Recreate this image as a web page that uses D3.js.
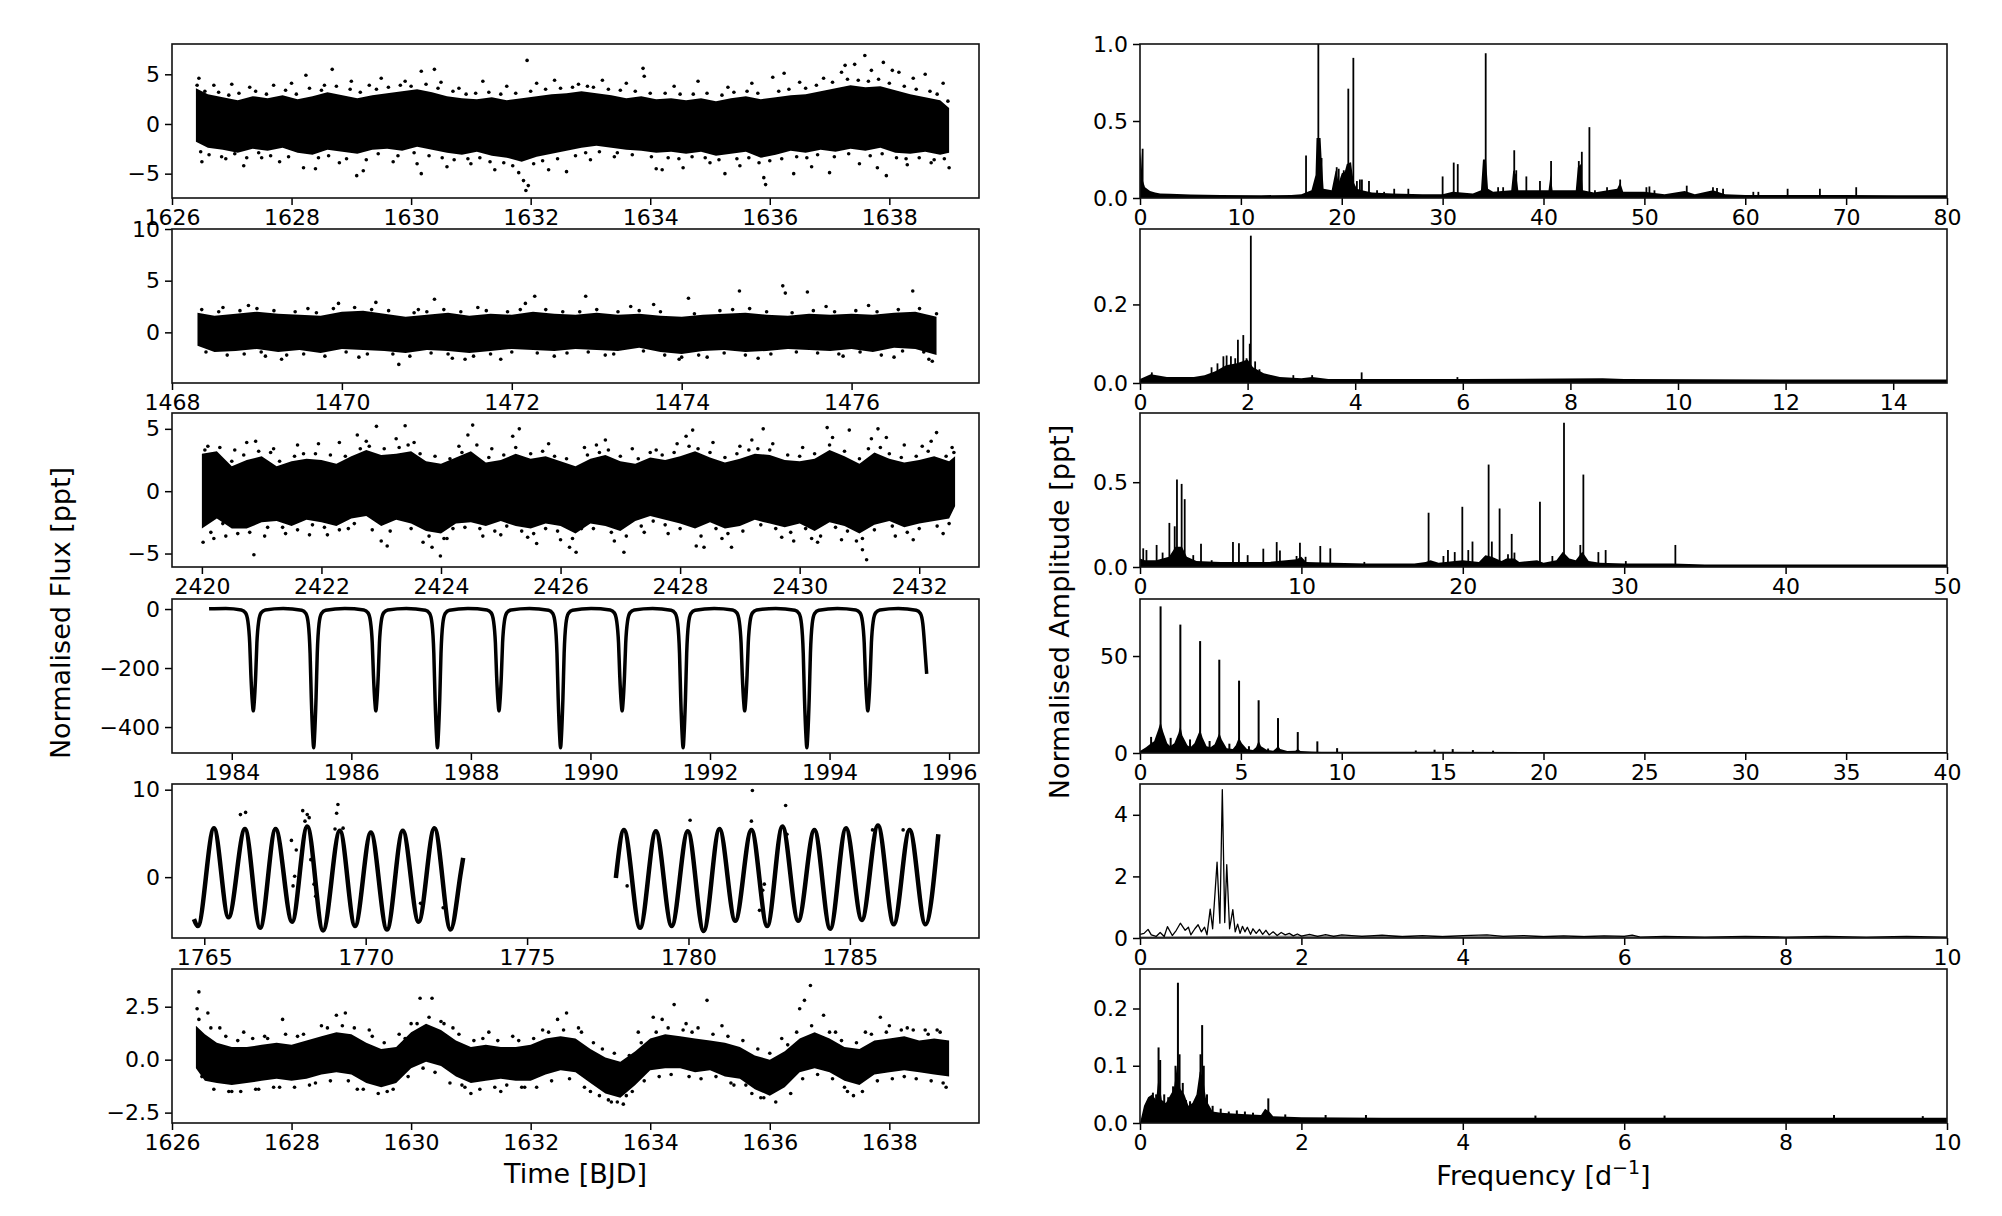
<!DOCTYPE html>
<html><head><meta charset="utf-8">
<script src="https://cdn.jsdelivr.net/npm/d3@7"></script>
<style>body{margin:0;background:#fff}svg{display:block}text{font-family:"DejaVu Sans",sans-serif}</style>
</head><body><svg id="c" width="2002" height="1216"></svg>
<script>
// ---------------- LEFT: light curves ----------------
// panel 1: band of dense points [t, low, high] + outlying points [t, flux]
const lc1Band=[[1626.4,-1.8,3.6],[1626.6,-2.4,3.0],[1626.85,-2.6,2.7],[1627.1,-2.9,2.4],[1627.35,-2.5,2.8],[1627.6,-2.7,2.6],[1627.85,-2.4,2.9],[1628.1,-2.9,2.5],[1628.35,-3.1,2.8],[1628.6,-2.6,3.2],[1628.85,-2.8,2.9],[1629.1,-3.0,2.6],[1629.35,-2.6,2.9],[1629.6,-2.5,3.1],[1629.85,-2.7,3.3],[1630.1,-2.3,3.5],[1630.35,-2.6,3.2],[1630.6,-2.9,2.8],[1630.85,-3.1,2.6],[1631.1,-2.8,2.5],[1631.35,-3.2,2.7],[1631.6,-3.4,2.4],[1631.85,-3.8,2.6],[1632.1,-3.3,2.8],[1632.35,-3.0,3.0],[1632.6,-2.7,3.1],[1632.85,-2.4,3.3],[1633.1,-2.2,3.1],[1633.35,-2.4,2.9],[1633.6,-2.6,2.6],[1633.85,-2.7,2.8],[1634.1,-2.9,2.5],[1634.35,-2.8,2.6],[1634.6,-3.0,2.4],[1634.85,-2.8,2.6],[1635.1,-3.2,2.3],[1635.35,-3.0,2.6],[1635.6,-2.8,2.8],[1635.85,-3.4,2.5],[1636.1,-3.1,2.7],[1636.35,-2.7,2.9],[1636.6,-2.9,3.0],[1636.85,-2.6,3.3],[1637.1,-2.8,3.6],[1637.35,-2.5,3.9],[1637.6,-2.7,3.7],[1637.85,-2.4,3.8],[1638.1,-2.9,3.4],[1638.35,-3.0,3.0],[1638.6,-2.8,2.7],[1638.85,-3.1,2.4],[1639.0,-2.9,1.6]];
const lc1Dots=[[1626.45,4.6],[1626.5,-3.8],[1626.7,3.9],[1626.9,-3.5],[1627.0,4.0],[1627.2,-4.2],[1627.3,3.7],[1627.5,-3.4],[1627.7,3.9],[1627.8,-3.8],[1628.0,4.1],[1628.2,-4.4],[1628.24,4.9],[1628.4,-4.5],[1628.55,3.9],[1628.68,5.5],[1628.8,-3.9],[1629.0,4.3],[1629.09,-5.2],[1629.2,-4.7],[1629.3,3.9],[1629.5,4.6],[1629.7,-3.8],[1629.9,4.3],[1630.1,-4.0],[1630.17,5.3],[1630.17,-5.0],[1630.39,5.5],[1630.5,4.2],[1630.6,-4.3],[1630.8,3.6],[1631.0,-4.0],[1631.2,4.3],[1631.4,-4.6],[1631.6,3.8],[1631.8,-4.9],[1631.88,-5.7],[1631.92,-6.7],[1631.94,6.4],[1631.96,-6.2],[1632.1,4.1],[1632.3,-4.6],[1632.4,4.4],[1632.6,-4.8],[1632.8,4.0],[1633.0,-3.6],[1633.2,4.4],[1633.4,-3.3],[1633.6,4.1],[1633.88,5.6],[1633.9,4.8],[1634.1,-4.5],[1634.2,-4.6],[1634.4,3.8],[1634.55,-4.4],[1634.8,4.3],[1635.0,-3.9],[1635.25,-5.0],[1635.3,3.7],[1635.5,-4.2],[1635.7,4.1],[1635.9,-5.4],[1635.93,-6.1],[1636.05,4.7],[1636.24,5.1],[1636.4,-5.0],[1636.5,4.2],[1636.7,-4.3],[1636.9,4.6],[1637.0,-4.9],[1637.2,5.2],[1637.26,5.9],[1637.42,6.0],[1637.5,-4.0],[1637.59,6.9],[1637.7,5.4],[1637.8,-4.4],[1637.9,6.2],[1637.95,-5.2],[1638.05,5.4],[1638.16,5.2],[1638.3,-4.1],[1638.4,4.6],[1638.6,5.0],[1638.7,-3.9],[1638.9,4.1],[1639.0,-4.4]];
const lc1Fringe=[[1626.42,3.9],[1626.48,-2.8],[1626.55,3.3],[1626.62,-3.1],[1626.78,3.2],[1626.83,-3.3],[1626.95,2.9],[1627.05,-3.0],[1627.12,3.1],[1627.25,-3.4],[1627.4,3.3],[1627.45,-2.9],[1627.58,3.0],[1627.65,-3.2],[1627.9,3.4],[1627.95,-3.3],[1628.08,3.0],[1628.3,3.6],[1628.45,-3.4],[1628.5,3.4],[1628.62,-3.2],[1628.75,3.8],[1628.92,-3.5],[1628.98,3.5],[1629.15,3.2],[1629.25,-3.6],[1629.42,3.5],[1629.45,-3.0],[1629.62,3.7],[1629.78,-3.2],[1629.82,3.9],[1630.0,3.8],[1630.05,-2.9],[1630.25,4.0],[1630.3,-3.2],[1630.45,3.6],[1630.52,-3.4],[1630.7,3.3],[1630.72,-3.6],[1630.92,3.0],[1630.95,-3.5],[1631.08,3.1],[1631.15,-3.4],[1631.3,3.2],[1631.32,-3.8],[1631.5,3.0],[1631.55,-3.9],[1631.7,-4.2],[1631.75,3.1],[1632.0,3.3],[1632.05,-4.0],[1632.2,-3.7],[1632.25,3.5],[1632.45,-3.5],[1632.5,3.6],[1632.7,3.7],[1632.75,-3.2],[1632.95,3.8],[1632.92,-2.9],[1633.05,3.7],[1633.15,-2.8],[1633.3,3.5],[1633.45,-2.9],[1633.5,3.4],[1633.7,-3.1],[1633.75,3.3],[1634.0,3.1],[1634.02,-3.3],[1634.25,3.1],[1634.3,-3.4],[1634.5,3.0],[1634.48,-3.5],[1634.7,-3.3],[1634.72,3.0],[1634.95,3.1],[1634.92,-3.4],[1635.15,-3.6],[1635.2,2.9],[1635.4,3.2],[1635.45,-3.5],[1635.62,3.3],[1635.65,-3.4],[1635.8,3.1],[1635.82,-3.9],[1636.0,-3.7],[1636.15,3.3],[1636.2,-3.5],[1636.32,3.5],[1636.45,-3.3],[1636.6,3.6],[1636.62,-3.4],[1636.78,3.9],[1636.8,-3.1],[1637.05,4.2],[1637.08,-3.3],[1637.3,4.5],[1637.32,-3.0],[1637.48,4.4],[1637.65,4.3],[1637.68,-3.2],[1637.82,4.5],[1637.88,-3.0],[1638.0,4.1],[1638.12,-3.4],[1638.25,3.8],[1638.28,-3.5],[1638.45,3.5],[1638.5,-3.4],[1638.68,3.3],[1638.75,-3.6],[1638.8,3.0],[1638.92,-3.5],[1638.98,2.3]];
const lc1XTicks=[1626,1628,1630,1632,1634,1636,1638];
const lc1YTicks=[-5,0,5];

// panel 2
const lc2Band=[[1468.3,-1.3,1.9],[1468.5,-1.9,1.6],[1468.75,-1.8,1.8],[1469.0,-1.6,2.0],[1469.25,-1.9,1.8],[1469.5,-1.7,1.7],[1469.75,-2.0,1.6],[1470.0,-1.6,2.0],[1470.25,-1.7,2.1],[1470.5,-1.8,1.8],[1470.75,-2.0,1.5],[1471.0,-1.7,1.7],[1471.25,-1.8,1.9],[1471.5,-2.0,1.6],[1471.75,-1.8,1.8],[1472.0,-1.6,1.7],[1472.25,-1.7,2.0],[1472.5,-1.8,1.8],[1472.75,-1.6,1.7],[1473.0,-1.7,1.9],[1473.25,-1.8,1.7],[1473.5,-1.5,1.8],[1473.75,-1.9,1.6],[1474.0,-2.1,1.5],[1474.25,-1.8,1.7],[1474.5,-1.7,1.8],[1474.75,-1.9,1.9],[1475.0,-1.8,1.7],[1475.25,-1.6,1.6],[1475.5,-1.7,1.8],[1475.75,-1.8,1.7],[1476.0,-1.6,1.8],[1476.25,-1.9,1.7],[1476.5,-1.5,1.9],[1476.75,-1.6,2.0],[1477.0,-2.2,1.5]];
const lc2Dots=[[1468.6,2.4],[1468.9,2.6],[1469.1,-2.3],[1469.29,-2.6],[1469.6,2.3],[1469.96,2.8],[1470.2,-2.4],[1470.4,2.9],[1470.67,-3.1],[1470.9,2.2],[1471.09,3.2],[1471.3,-2.5],[1471.45,-2.6],[1471.6,2.4],[1471.87,-2.6],[1472.16,2.8],[1472.27,3.5],[1472.5,-2.3],[1472.87,3.5],[1473.1,-2.2],[1473.4,2.5],[1473.67,2.7],[1473.97,-2.6],[1474.08,3.3],[1474.3,-2.4],[1474.68,4.0],[1474.9,-2.5],[1475.19,4.5],[1475.22,3.8],[1475.48,3.9],[1475.7,2.5],[1475.9,-2.3],[1476.2,2.6],[1476.5,-2.4],[1476.72,4.0],[1476.91,-2.6],[1476.95,-2.8]];
const lc2Fringe=[[1468.35,2.2],[1468.4,-1.9],[1468.55,2.0],[1468.65,-2.2],[1468.8,2.1],[1468.85,-2.1],[1469.0,2.3],[1469.05,-1.9],[1469.2,2.1],[1469.35,-2.2],[1469.45,2.0],[1469.55,-2.1],[1469.7,1.9],[1469.8,-2.3],[1469.9,2.3],[1470.05,-1.9],[1470.15,2.4],[1470.3,-2.1],[1470.35,2.2],[1470.55,2.1],[1470.6,-2.1],[1470.8,-2.3],[1470.85,1.9],[1471.0,2.0],[1471.05,-2.0],[1471.2,2.2],[1471.25,-2.1],[1471.4,2.0],[1471.55,-2.3],[1471.7,2.1],[1471.75,-2.1],[1471.95,2.0],[1472.0,-1.9],[1472.1,2.2],[1472.3,-2.0],[1472.4,2.2],[1472.6,2.0],[1472.65,-2.0],[1472.8,2.0],[1472.9,-1.9],[1473.0,2.2],[1473.2,-2.1],[1473.25,2.0],[1473.5,2.1],[1473.55,-1.8],[1473.75,2.0],[1473.8,-2.2],[1474.0,-2.4],[1474.15,1.8],[1474.2,-2.2],[1474.45,2.1],[1474.5,-2.0],[1474.6,2.2],[1474.75,-2.2],[1474.8,2.3],[1475.0,2.0],[1475.05,-2.1],[1475.3,1.9],[1475.35,-1.9],[1475.55,2.1],[1475.6,-2.0],[1475.8,2.0],[1475.85,-2.1],[1476.05,2.1],[1476.1,-1.9],[1476.3,2.0],[1476.35,-2.2],[1476.55,2.2],[1476.6,-1.8],[1476.8,2.3],[1476.85,-1.9],[1477.0,1.8]];
const lc2XTicks=[1468,1470,1472,1474,1476];
const lc2YTicks=[0,5,10];

// panel 3
const lc3Band=[[2420.0,-3.0,3.0],[2420.25,-2.2,3.2],[2420.5,-3.0,2.0],[2420.75,-3.0,2.5],[2421.0,-2.5,2.8],[2421.25,-2.4,2.0],[2421.5,-2.8,2.4],[2421.75,-2.3,2.6],[2422.0,-2.5,2.5],[2422.25,-2.8,2.2],[2422.5,-2.2,2.8],[2422.75,-2.0,3.3],[2423.0,-2.8,2.9],[2423.25,-2.3,3.0],[2423.5,-2.6,3.2],[2423.75,-3.2,2.4],[2424.0,-3.4,2.2],[2424.25,-2.6,2.7],[2424.5,-2.5,3.2],[2424.75,-2.8,2.3],[2425.0,-2.4,2.5],[2425.25,-2.8,3.0],[2425.5,-3.0,2.6],[2425.75,-2.6,2.8],[2426.0,-2.8,2.4],[2426.25,-3.4,2.0],[2426.5,-2.6,2.6],[2426.75,-2.8,2.9],[2427.0,-3.2,2.4],[2427.25,-2.4,2.2],[2427.5,-2.0,2.7],[2427.75,-2.3,2.5],[2428.0,-2.6,2.8],[2428.25,-3.0,3.2],[2428.5,-2.5,2.7],[2428.75,-3.0,2.3],[2429.0,-2.8,2.6],[2429.25,-2.3,3.0],[2429.5,-2.6,2.9],[2429.75,-2.9,2.5],[2430.0,-2.6,2.4],[2430.25,-3.2,2.6],[2430.5,-2.5,3.3],[2430.75,-2.8,2.8],[2431.0,-3.4,2.2],[2431.25,-2.7,3.1],[2431.5,-2.4,2.6],[2431.75,-2.9,2.3],[2432.0,-2.6,2.5],[2432.25,-2.4,2.8],[2432.5,-2.2,2.4],[2432.6,-1.2,2.8]];
const lc3Dots=[[2420.02,-4.1],[2420.1,3.6],[2420.2,-3.8],[2420.4,-3.6],[2420.55,3.3],[2420.75,3.9],[2420.87,-5.1],[2420.9,4.0],[2421.05,-3.6],[2421.2,3.4],[2421.4,-3.4],[2421.6,3.7],[2421.8,-3.5],[2421.95,3.8],[2422.1,-3.5],[2422.3,3.9],[2422.45,-3.0],[2422.6,4.5],[2422.75,4.0],[2422.92,5.2],[2423.0,-4.0],[2423.1,-4.4],[2423.25,4.2],[2423.4,5.25],[2423.55,3.9],[2423.7,-4.1],[2423.85,-4.5],[2423.99,-5.2],[2424.1,-3.8],[2424.3,3.6],[2424.45,4.5],[2424.53,5.3],[2424.7,-3.6],[2424.85,3.4],[2425.0,-3.5],[2425.2,4.4],[2425.31,5.0],[2425.45,-3.7],[2425.6,-4.2],[2425.8,3.8],[2426.0,-3.9],[2426.15,-4.5],[2426.26,-4.9],[2426.4,3.5],[2426.6,3.7],[2426.75,4.1],[2426.9,-4.0],[2427.06,-4.9],[2427.2,3.4],[2427.4,-3.3],[2427.6,3.3],[2427.8,-3.4],[2427.95,3.8],[2428.1,4.4],[2428.21,4.9],[2428.27,-4.4],[2428.4,-4.5],[2428.55,3.9],[2428.7,-3.8],[2428.86,-4.5],[2429.0,3.6],[2429.2,4.1],[2429.39,5.0],[2429.55,3.8],[2429.7,-3.7],[2429.9,-4.0],[2430.05,3.5],[2430.2,-3.8],[2430.3,-4.1],[2430.46,5.1],[2430.55,4.3],[2430.7,-3.9],[2430.83,4.9],[2430.95,-4.0],[2431.05,-4.7],[2431.12,-5.5],[2431.2,4.2],[2431.31,5.0],[2431.45,4.3],[2431.6,-3.6],[2431.75,3.7],[2431.9,-3.9],[2432.05,3.6],[2432.2,4.0],[2432.29,4.7],[2432.4,-3.4],[2432.55,3.5]];
const lc3Fringe=[[2420.05,3.3],[2420.15,-3.3],[2420.3,3.5],[2420.35,-2.6],[2420.5,2.4],[2420.6,-3.4],[2420.7,2.9],[2420.8,-3.3],[2420.95,3.2],[2421.1,-2.9],[2421.15,3.1],[2421.3,2.4],[2421.35,-2.9],[2421.55,2.8],[2421.6,-3.1],[2421.7,3.0],[2421.85,-2.7],[2421.9,3.0],[2422.05,-2.9],[2422.15,2.9],[2422.3,-3.1],[2422.4,2.8],[2422.55,-2.6],[2422.65,3.4],[2422.8,3.6],[2422.85,-3.1],[2423.05,3.4],[2423.15,-3.2],[2423.3,3.5],[2423.45,3.7],[2423.5,-3.0],[2423.65,3.0],[2423.8,-3.6],[2423.9,2.8],[2424.05,-3.8],[2424.15,2.6],[2424.2,-3.0],[2424.35,3.1],[2424.4,-2.9],[2424.6,3.7],[2424.65,-3.0],[2424.8,2.7],[2424.9,-3.2],[2425.05,2.9],[2425.1,-2.8],[2425.25,3.5],[2425.35,-3.2],[2425.5,3.0],[2425.55,-3.4],[2425.7,3.2],[2425.75,-3.0],[2425.9,2.8],[2425.95,-3.2],[2426.1,2.6],[2426.2,-3.8],[2426.35,-3.0],[2426.45,2.9],[2426.55,-3.0],[2426.65,3.1],[2426.8,3.3],[2426.85,-3.3],[2427.0,2.8],[2427.1,-3.6],[2427.3,2.6],[2427.35,-2.8],[2427.5,3.1],[2427.55,-2.4],[2427.7,2.9],[2427.75,-2.7],[2427.9,3.1],[2428.0,-3.0],[2428.15,3.6],[2428.3,3.4],[2428.35,-3.6],[2428.5,3.1],[2428.6,-3.0],[2428.75,2.7],[2428.8,-3.4],[2428.95,3.0],[2429.05,-3.2],[2429.15,3.3],[2429.3,3.4],[2429.35,-2.7],[2429.5,3.3],[2429.6,-3.0],[2429.8,2.9],[2429.85,-3.3],[2430.0,2.8],[2430.1,-3.0],[2430.25,3.0],[2430.35,-3.6],[2430.5,3.7],[2430.6,-2.9],[2430.75,3.2],[2430.8,-3.2],[2431.0,2.6],[2431.05,-3.8],[2431.15,3.4],[2431.25,-3.1],[2431.35,3.5],[2431.5,3.0],[2431.55,-2.8],[2431.7,2.7],[2431.8,-3.3],[2431.95,2.8],[2432.0,-3.0],[2432.15,3.2],[2432.3,-2.8],[2432.45,2.8],[2432.5,-2.6],[2432.58,3.1]];
const lc3XTicks=[2420,2422,2424,2426,2428,2430,2432];
const lc3YTicks=[-5,0,5];

// panel 4: eclipsing binary [t, flux]
const lc4Curve=[[1983.62,1],[1983.9,2],[1984.16,-3],[1984.23,-13],[1984.27,-42],[1984.30,-115],[1984.32,-225],[1984.345,-318],[1984.36,-345],[1984.375,-318],[1984.40,-225],[1984.42,-115],[1984.45,-42],[1984.49,-13],[1984.56,-3],[1984.86,2],
[1985.17,-4],[1985.24,-15],[1985.28,-50],[1985.31,-150],[1985.33,-300],[1985.355,-430],[1985.37,-470],[1985.385,-430],[1985.41,-300],[1985.43,-150],[1985.46,-50],[1985.50,-15],[1985.57,-4],[1985.89,2],
[1986.21,-3],[1986.28,-13],[1986.32,-42],[1986.35,-115],[1986.37,-225],[1986.395,-318],[1986.41,-345],[1986.425,-318],[1986.45,-225],[1986.47,-115],[1986.50,-42],[1986.54,-13],[1986.61,-3],[1986.92,2],
[1987.24,-4],[1987.31,-15],[1987.35,-50],[1987.38,-150],[1987.40,-300],[1987.425,-430],[1987.44,-470],[1987.455,-430],[1987.48,-300],[1987.50,-150],[1987.53,-50],[1987.57,-15],[1987.64,-4],[1987.95,2],
[1988.27,-3],[1988.34,-13],[1988.38,-42],[1988.41,-115],[1988.43,-225],[1988.455,-318],[1988.47,-345],[1988.485,-318],[1988.51,-225],[1988.53,-115],[1988.56,-42],[1988.60,-13],[1988.67,-3],[1988.98,2],
[1989.30,-4],[1989.37,-15],[1989.41,-50],[1989.44,-150],[1989.46,-300],[1989.485,-430],[1989.50,-470],[1989.515,-430],[1989.54,-300],[1989.56,-150],[1989.59,-50],[1989.63,-15],[1989.70,-4],[1990.01,2],
[1990.33,-3],[1990.40,-13],[1990.44,-42],[1990.47,-115],[1990.49,-225],[1990.515,-318],[1990.53,-345],[1990.545,-318],[1990.57,-225],[1990.59,-115],[1990.62,-42],[1990.66,-13],[1990.73,-3],[1991.04,2],
[1991.35,-4],[1991.42,-15],[1991.46,-50],[1991.49,-150],[1991.51,-300],[1991.535,-430],[1991.55,-470],[1991.565,-430],[1991.59,-300],[1991.61,-150],[1991.64,-50],[1991.68,-15],[1991.75,-4],[1992.07,2],
[1992.38,-3],[1992.45,-13],[1992.49,-42],[1992.52,-115],[1992.54,-225],[1992.565,-318],[1992.58,-345],[1992.595,-318],[1992.62,-225],[1992.64,-115],[1992.67,-42],[1992.71,-13],[1992.78,-3],[1993.10,2],
[1993.42,-4],[1993.49,-15],[1993.53,-50],[1993.56,-150],[1993.58,-300],[1993.605,-430],[1993.62,-470],[1993.635,-430],[1993.66,-300],[1993.68,-150],[1993.71,-50],[1993.75,-15],[1993.82,-4],[1994.13,2],
[1994.44,-3],[1994.51,-13],[1994.55,-42],[1994.58,-115],[1994.60,-225],[1994.625,-318],[1994.64,-345],[1994.655,-318],[1994.68,-225],[1994.70,-115],[1994.73,-42],[1994.77,-13],[1994.84,-3],[1995.15,2],
[1995.45,-4],[1995.52,-15],[1995.56,-50],[1995.60,-150],[1995.625,-220]];
const lc4XTicks=[1984,1986,1988,1990,1992,1994,1996];
const lc4YTicks=[-400,-200,0];

// panel 5: pulsation, extrema of the two segments + outliers
const lc5Seg1=[[1764.68,-4.8],[1764.80,-5.6],[1765.30,5.6],[1765.75,-4.6],[1766.26,5.5],[1766.73,-5.8],[1767.21,5.5],[1767.72,-5.1],[1768.19,5.8],[1768.68,-6.1],[1769.20,5.3],[1769.67,-5.6],[1770.16,5.1],[1770.66,-6.0],[1771.15,5.3],[1771.64,-5.1],[1772.13,5.6],[1772.63,-6.0],[1772.95,0.6],[1773.02,2.2]];
const lc5Seg2=[[1777.75,-0.1],[1778.0,5.4],[1778.5,-5.8],[1778.99,5.25],[1779.48,-5.6],[1779.98,5.25],[1780.47,-6.15],[1780.96,5.5],[1781.45,-5.0],[1781.95,5.4],[1782.44,-5.6],[1782.91,5.8],[1783.40,-5.0],[1783.90,5.4],[1784.39,-5.9],[1784.88,5.6],[1785.37,-4.9],[1785.87,5.9],[1786.36,-5.4],[1786.85,5.4],[1787.34,-5.4],[1787.74,4.9]];
const lc5Dots=[[1766.12,7.15],[1766.28,7.4],[1767.7,4.2],[1767.8,0.1],[1767.85,3.1],[1767.75,-1.0],[1768.05,7.6],[1768.12,6.4],[1768.19,7.15],[1768.25,6.8],[1768.3,2.0],[1768.4,-0.8],[1768.45,-2.2],[1769.1,7.3],[1769.14,8.3],[1769.05,5.5],[1769.3,5.6],[1771.7,-3.0],[1772.4,-3.5],[1778.1,-1.0],[1780.05,6.5],[1781.98,9.9],[1781.95,6.4],[1782.25,-2.0],[1782.3,-1.5],[1782.2,-3.8],[1782.35,-0.8],[1783.01,8.2],[1783.05,4.9],[1785.7,5.4],[1786.65,5.4]];
const lc5XTicks=[1765,1770,1775,1780,1785];
const lc5YTicks=[0,10];

// panel 6
const lc6Band=[[1626.4,-0.4,1.6],[1626.55,-1.0,1.2],[1626.75,-1.1,0.8],[1627.0,-1.2,0.6],[1627.25,-1.1,0.6],[1627.5,-1.0,0.7],[1627.75,-0.9,0.8],[1628.0,-1.0,0.7],[1628.25,-0.9,0.9],[1628.5,-0.7,1.1],[1628.75,-0.6,1.3],[1629.0,-0.7,1.2],[1629.25,-1.1,0.8],[1629.5,-1.3,0.5],[1629.75,-1.1,0.6],[1630.0,-0.4,1.3],[1630.25,-0.1,1.7],[1630.5,-0.3,1.4],[1630.75,-0.8,0.9],[1631.0,-1.1,0.6],[1631.25,-1.0,0.7],[1631.5,-0.9,0.6],[1631.75,-1.0,0.6],[1632.0,-1.0,0.7],[1632.25,-0.7,1.0],[1632.5,-0.5,1.1],[1632.75,-0.6,1.0],[1633.0,-1.1,0.5],[1633.25,-1.6,0.1],[1633.5,-1.8,-0.1],[1633.75,-1.2,0.4],[1634.0,-0.5,1.0],[1634.25,-0.4,1.2],[1634.5,-0.4,1.1],[1634.75,-0.6,1.0],[1635.0,-0.5,0.9],[1635.25,-0.8,0.8],[1635.5,-0.9,0.6],[1635.75,-1.4,0.2],[1636.0,-1.7,0.0],[1636.25,-1.3,0.4],[1636.5,-0.6,1.0],[1636.75,-0.4,1.3],[1637.0,-0.6,1.0],[1637.25,-1.0,0.6],[1637.5,-1.2,0.5],[1637.75,-0.7,0.9],[1638.0,-0.6,1.0],[1638.25,-0.5,1.1],[1638.5,-0.6,0.9],[1638.75,-0.7,1.0],[1639.0,-0.8,0.9]];
const lc6Dots=[[1626.45,3.2],[1626.42,2.4],[1626.6,2.2],[1626.8,1.5],[1627.0,-1.5],[1627.2,1.3],[1627.4,-1.4],[1627.6,1.0],[1627.8,-1.3],[1627.85,1.9],[1628.1,1.1],[1628.3,-1.2],[1628.5,1.6],[1628.75,2.1],[1628.9,2.2],[1629.1,-1.4],[1629.3,1.4],[1629.6,-1.5],[1629.8,1.2],[1630.0,1.7],[1630.15,2.9],[1630.35,2.9],[1630.5,1.8],[1630.7,1.5],[1630.9,-1.3],[1631.0,-1.6],[1631.3,1.3],[1631.5,-1.5],[1631.7,1.1],[1631.9,-1.3],[1632.2,1.4],[1632.45,1.9],[1632.6,2.2],[1632.8,1.5],[1633.0,-1.5],[1633.3,-1.9],[1633.45,-2.0],[1633.6,-1.7],[1633.8,1.3],[1634.05,2.0],[1634.2,1.9],[1634.4,2.6],[1634.6,1.7],[1634.8,1.5],[1634.95,2.8],[1635.2,1.6],[1635.4,-1.2],[1635.7,-1.6],[1635.9,-1.8],[1636.05,-1.5],[1636.2,1.0],[1636.5,2.4],[1636.58,2.8],[1636.68,3.5],[1636.9,2.1],[1637.1,1.3],[1637.3,-1.5],[1637.4,-1.7],[1637.6,1.3],[1637.85,2.0],[1638.0,1.6],[1638.3,1.5],[1638.6,1.4],[1638.8,1.4],[1638.95,-1.3]];
const lc6Fringe=[[1626.45,1.9],[1626.5,-0.8],[1626.65,1.5],[1626.7,-1.4],[1626.9,1.1],[1626.95,-1.5],[1627.1,0.9],[1627.15,-1.5],[1627.35,1.0],[1627.45,-1.4],[1627.55,1.1],[1627.7,-1.3],[1627.9,1.2],[1628.05,-1.3],[1628.2,1.2],[1628.4,-1.1],[1628.6,1.5],[1628.65,-1.0],[1628.85,1.6],[1628.95,-1.0],[1629.05,1.5],[1629.2,-1.4],[1629.35,1.1],[1629.45,-1.6],[1629.55,0.8],[1629.7,-1.4],[1629.9,1.0],[1629.95,-0.8],[1630.1,1.7],[1630.2,-0.4],[1630.3,2.0],[1630.4,-0.6],[1630.55,1.7],[1630.65,-1.1],[1630.8,1.2],[1630.85,-1.2],[1631.05,0.9],[1631.15,-1.4],[1631.2,1.0],[1631.4,-1.3],[1631.45,0.9],[1631.6,-1.2],[1631.8,0.9],[1631.85,-1.3],[1632.05,1.0],[1632.1,-1.3],[1632.3,1.3],[1632.35,-1.0],[1632.55,1.4],[1632.65,-0.9],[1632.85,1.3],[1632.9,-1.3],[1633.05,0.8],[1633.15,-1.7],[1633.2,0.5],[1633.35,-2.0],[1633.4,0.3],[1633.55,-2.1],[1633.65,0.2],[1633.7,-1.5],[1633.85,0.8],[1633.9,-1.0],[1634.1,1.3],[1634.15,-0.8],[1634.3,1.5],[1634.35,-0.7],[1634.55,1.4],[1634.65,-0.8],[1634.7,1.3],[1634.85,-0.9],[1635.05,1.2],[1635.1,-0.8],[1635.3,1.1],[1635.35,-1.1],[1635.55,0.9],[1635.6,-1.2],[1635.8,0.5],[1635.85,-1.8],[1636.0,0.3],[1636.1,-2.0],[1636.3,0.7],[1636.35,-1.6],[1636.45,1.3],[1636.55,-0.9],[1636.7,1.6],[1636.8,-0.7],[1637.0,1.3],[1637.05,-0.9],[1637.2,0.9],[1637.25,-1.3],[1637.45,0.8],[1637.55,-1.5],[1637.7,1.2],[1637.8,-1.0],[1637.95,1.3],[1638.05,-0.9],[1638.2,1.4],[1638.25,-0.8],[1638.4,1.4],[1638.45,-0.9],[1638.65,1.2],[1638.7,-1.0],[1638.85,1.3],[1638.9,-1.1]];
const lc6XTicks=[1626,1628,1630,1632,1634,1636,1638];
const lc6YTicks=[-2.5,0,2.5];

// ---------------- RIGHT: amplitude spectra ----------------
const ps1Floor=[[0,0.25],[0.1,0.3],[0.25,0.12],[0.5,0.07],[1,0.045],[1.5,0.035],[2,0.03],[3,0.028],[5,0.022],[8,0.02],[12,0.018],[15,0.02],[16,0.025],[17,0.05],[17.4,0.15],[17.5,0.39],[17.9,0.39],[18.0,0.26],[18.2,0.06],[19,0.05],[19.4,0.18],[19.7,0.1],[20,0.16],[20.3,0.17],[20.5,0.22],[20.9,0.23],[21.2,0.1],[21.5,0.06],[22,0.05],[23,0.035],[25,0.03],[28,0.025],[30,0.025],[31,0.04],[33,0.03],[33.8,0.05],[34.0,0.25],[34.3,0.25],[34.5,0.06],[35,0.04],[36.8,0.05],[37.0,0.18],[37.3,0.15],[37.5,0.05],[40.5,0.05],[40.7,0.15],[40.9,0.05],[43.2,0.05],[43.4,0.2],[43.7,0.22],[43.9,0.05],[45,0.035],[47.3,0.06],[47.6,0.1],[47.9,0.04],[50,0.04],[52,0.025],[54,0.045],[55,0.025],[56.8,0.05],[58,0.025],[60,0.02],[65,0.02],[70,0.02],[75,0.018],[80,0.018]];
const ps1Peaks=[[0.26,0.32],[16.46,0.276],[17.68,1.0],[18.0,0.26],[19.5,0.2],[19.7,0.19],[20.2,0.18],[20.65,0.71],[20.85,0.23],[21.15,0.91],[21.5,0.11],[21.8,0.12],[22.0,0.12],[22.7,0.11],[23.5,0.05],[24.2,0.04],[25.2,0.06],[26.6,0.06],[30.0,0.14],[31.1,0.23],[31.5,0.22],[34.27,0.94],[35.5,0.07],[36.0,0.07],[37.1,0.31],[37.3,0.18],[38.3,0.14],[39.65,0.11],[40.75,0.24],[43.5,0.24],[43.8,0.30],[44.55,0.46],[45.1,0.05],[46.3,0.07],[47.6,0.12],[50.2,0.07],[50.5,0.075],[51.0,0.05],[54.2,0.08],[56.8,0.07],[57.2,0.065],[57.8,0.06],[60.8,0.04],[61.3,0.04],[64.2,0.06],[67.4,0.06],[71.0,0.07]];
const ps1XTicks=[0,10,20,30,40,50,60,70,80];
const ps1YTicks=[0,0.5,1.0];

const ps2Floor=[[0,0.01],[0.2,0.022],[0.5,0.015],[1,0.015],[1.2,0.02],[1.4,0.03],[1.6,0.045],[1.8,0.05],[2.0,0.06],[2.1,0.04],[2.3,0.025],[2.6,0.015],[3,0.012],[3.2,0.015],[3.5,0.01],[4,0.01],[6,0.01],[8.6,0.012],[9,0.01],[12,0.009],[15,0.009]];
const ps2Peaks=[[0.22,0.027],[1.33,0.04],[1.44,0.05],[1.55,0.068],[1.61,0.07],[1.69,0.068],[1.77,0.063],[1.82,0.11],[1.92,0.122],[1.98,0.063],[2.04,0.1],[2.06,0.375],[2.14,0.055],[2.22,0.035],[2.85,0.02],[3.2,0.02],[4.12,0.027],[5.9,0.015]];
const ps2XTicks=[0,2,4,6,8,10,12,14];
const ps2YTicks=[0,0.2];

const ps3Floor=[[0,0.05],[0.3,0.04],[1,0.04],[1.8,0.06],[2.2,0.12],[2.6,0.12],[2.9,0.06],[3.5,0.035],[5,0.03],[8,0.03],[9.7,0.045],[10,0.06],[10.3,0.03],[12,0.025],[14,0.02],[17,0.02],[17.7,0.03],[18,0.04],[18.5,0.025],[19.5,0.035],[20,0.04],[21,0.03],[21.4,0.07],[21.8,0.06],[22.4,0.035],[22.7,0.05],[23.2,0.05],[23.5,0.03],[24.6,0.04],[25,0.025],[25.8,0.04],[26.2,0.09],[26.6,0.05],[27.0,0.04],[27.4,0.09],[27.8,0.035],[28.5,0.025],[30,0.02],[33,0.02],[35,0.015],[40,0.015],[50,0.015]];
const ps3Peaks=[[0.2,0.11],[0.4,0.10],[1.03,0.13],[1.4,0.085],[1.82,0.26],[2.15,0.24],[2.29,0.516],[2.58,0.49],[2.77,0.40],[3.3,0.07],[3.78,0.137],[4.44,0.04],[5.76,0.147],[6.13,0.14],[6.67,0.07],[7.64,0.108],[8.47,0.147],[8.67,0.098],[9.7,0.065],[9.91,0.143],[10.26,0.06],[11.17,0.124],[11.79,0.11],[13.9,0.03],[17.88,0.32],[18.8,0.065],[19.08,0.1],[19.5,0.088],[19.97,0.355],[20.34,0.10],[20.6,0.15],[21.6,0.604],[21.8,0.15],[22.28,0.345],[22.8,0.075],[23.03,0.195],[23.2,0.085],[24.78,0.385],[25.55,0.065],[26.27,0.85],[27.28,0.13],[27.47,0.545],[28.4,0.088],[28.85,0.10],[30.1,0.035],[33.17,0.13]];
const ps3XTicks=[0,10,20,30,40,50];
const ps3YTicks=[0,0.5];

const ps4Floor=[[0,1],[0.3,3],[0.55,5],[0.7,6],[0.9,12],[1.02,16],[1.15,11],[1.35,5],[1.5,3.5],[1.7,5],[1.9,10],[2.0,14],[2.1,9],[2.35,4],[2.5,3],[2.7,5],[2.9,10],[2.98,12],[3.1,8],[3.3,3.5],[3.5,3],[3.7,4.5],[3.88,9],[3.93,10.5],[4.05,7],[4.3,2.5],[4.6,2],[4.75,4],[4.9,8],[5.05,5],[5.3,2],[5.6,1.5],[5.75,3],[5.88,6.3],[6.0,3.5],[6.3,1.5],[6.6,1.2],[6.75,2.5],[6.84,3.8],[6.95,2],[7.3,1],[7.7,1.2],[7.82,2],[7.95,1],[8.5,0.8],[9,0.7],[10,0.6],[15,0.6],[20,0.5],[40,0.5]];
const ps4Peaks=[[0.55,8.3],[1.02,75.6],[1.52,7.8],[2.0,66.2],[2.48,7.0],[2.98,57.7],[3.45,6.2],[3.93,48.1],[4.43,4.8],[4.91,37.3],[5.4,3.5],[5.88,27.2],[6.35,2.3],[6.84,18.0],[7.82,10.8],[8.79,6.0],[9.77,2.5],[13.67,1.3],[14.6,1.7],[15.5,2.0],[16.5,1.5],[17.5,1.2]];
const ps4XTicks=[0,5,10,15,20,25,30,35,40];
const ps4YTicks=[0,50];

const ps5Line=[[0,0.12],[0.05,0.15],[0.1,0.28],[0.14,0.1],[0.2,0.05],[0.25,0.18],[0.3,0.05],[0.34,0.37],[0.4,0.08],[0.45,0.25],[0.5,0.48],[0.56,0.25],[0.6,0.35],[0.63,0.1],[0.68,0.3],[0.72,0.43],[0.76,0.2],[0.8,0.35],[0.83,0.1],[0.87,0.94],[0.9,0.3],[0.955,2.46],[0.99,0.48],[1.02,4.82],[1.05,0.5],[1.075,2.38],[1.11,0.3],[1.15,0.92],[1.18,0.2],[1.21,0.45],[1.24,0.15],[1.27,0.38],[1.3,0.2],[1.33,0.35],[1.37,0.12],[1.4,0.3],[1.44,0.15],[1.48,0.28],[1.52,0.12],[1.56,0.25],[1.6,0.1],[1.65,0.2],[1.7,0.08],[1.75,0.18],[1.8,0.1],[1.85,0.15],[1.9,0.07],[1.95,0.13],[2.0,0.06],[2.1,0.12],[2.2,0.05],[2.3,0.11],[2.4,0.05],[2.5,0.1],[2.75,0.05],[3,0.09],[3.25,0.04],[3.5,0.08],[3.75,0.04],[4,0.08],[4.3,0.1],[4.5,0.05],[4.75,0.08],[5,0.04],[5.25,0.07],[5.5,0.04],[5.75,0.07],[6,0.05],[6.1,0.09],[6.2,0.03],[6.5,0.05],[7,0.03],[7.5,0.05],[8,0.03],[8.5,0.05],[9,0.03],[9.5,0.05],[10,0.03]];
const ps5Floor=[[0,0.05],[2,0.08],[4,0.07],[6.1,0.07],[6.2,0.045],[10,0.04]];
const ps5XTicks=[0,2,4,6,8,10];
const ps5YTicks=[0,2,4];

const ps6Floor=[[0,0.0],[0.05,0.03],[0.1,0.045],[0.15,0.05],[0.2,0.04],[0.23,0.08],[0.27,0.04],[0.32,0.035],[0.38,0.05],[0.42,0.06],[0.46,0.1],[0.5,0.06],[0.55,0.05],[0.6,0.03],[0.65,0.035],[0.7,0.05],[0.74,0.09],[0.78,0.08],[0.82,0.04],[0.86,0.03],[0.9,0.02],[1.0,0.018],[1.2,0.016],[1.5,0.014],[1.55,0.025],[1.6,0.02],[1.65,0.012],[2,0.01],[3,0.009],[5,0.009],[10,0.009]];
const ps6Peaks=[[0.05,0.02],[0.12,0.04],[0.16,0.053],[0.2,0.05],[0.23,0.132],[0.25,0.11],[0.3,0.05],[0.35,0.045],[0.41,0.064],[0.44,0.1],[0.47,0.245],[0.49,0.12],[0.53,0.07],[0.57,0.04],[0.62,0.038],[0.7,0.04],[0.75,0.12],[0.77,0.171],[0.79,0.1],[0.83,0.05],[0.9,0.03],[1.0,0.025],[1.1,0.02],[1.2,0.022],[1.3,0.02],[1.4,0.018],[1.59,0.043],[1.8,0.015],[2.3,0.014],[2.8,0.014],[4.9,0.013],[6.5,0.013],[8.6,0.014],[9.7,0.012]];
const ps6XTicks=[0,2,4,6,8,10];
const ps6YTicks=[0,0.1,0.2];

// ---------------- drawing ----------------
const svg=d3.select("#c");
const LX=[172,979], RX=[1140,1947];
const TOPS=[44,229,413,599,784,969], PH=154;
const minus=s=>String(s).replace("-","\u2212");
let clipId=0;

function panel(row, xr, xDom, yDom, xT, yT, xFmt, yFmt){
  const x=d3.scaleLinear().domain(xDom).range(xr);
  const y=d3.scaleLinear().domain(yDom).range([TOPS[row]+PH, TOPS[row]]);
  const id="cp"+(clipId++);
  svg.append("clipPath").attr("id",id).append("rect").attr("x",xr[0]).attr("y",TOPS[row]).attr("width",xr[1]-xr[0]).attr("height",PH);
  const g=svg.append("g").attr("clip-path",`url(#${id})`);
  const ax=svg.append("g").attr("transform",`translate(0,${TOPS[row]+PH})`)
    .call(d3.axisBottom(x).tickValues(xT).tickSize(7).tickPadding(4).tickFormat(xFmt||(d=>minus(d))));
  const ay=svg.append("g").attr("transform",`translate(${xr[0]},0)`)
    .call(d3.axisLeft(y).tickValues(yT).tickSize(7).tickPadding(5).tickFormat(yFmt||(d=>minus(d))));
  [ax,ay].forEach(a=>{a.select(".domain").remove();a.selectAll("line").attr("stroke","#000").attr("stroke-width",1.5);
    a.selectAll("text").attr("fill","#000").style("font-size","22px").style("font-family","DejaVu Sans");});
  const frame=()=>svg.append("rect").attr("x",xr[0]).attr("y",TOPS[row]).attr("width",xr[1]-xr[0]).attr("height",PH)
    .attr("fill","none").attr("stroke","#111").attr("stroke-width",1.6);
  return {g,x,y,frame};
}
function band(p,data){
  p.g.append("path").datum(data).attr("fill","#000")
    .attr("d",d3.area().x(d=>p.x(d[0])).y0(d=>p.y(d[1])).y1(d=>p.y(d[2])));
}
function dots(p,data,r){
  p.g.selectAll(null).data(data).join("circle").attr("cx",d=>p.x(d[0])).attr("cy",d=>p.y(d[1])).attr("r",r||1.8).attr("fill","#000");
}
function line(p,data,w,curve){
  p.g.append("path").datum(data).attr("fill","none").attr("stroke","#000").attr("stroke-width",w).attr("stroke-linejoin","round")
    .attr("d",d3.line().x(d=>p.x(d[0])).y(d=>p.y(d[1])).curve(curve||d3.curveLinear));
}
function spectrum(p,floor,peaks,w){
  p.g.append("path").datum(floor).attr("fill","#000")
    .attr("d",d3.area().x(d=>p.x(d[0])).y0(p.y(0)).y1(d=>p.y(d[1])));
  p.g.selectAll(null).data(peaks).join("line").attr("x1",d=>p.x(d[0])).attr("x2",d=>p.x(d[0]))
    .attr("y1",p.y(0)).attr("y2",d=>p.y(d[1])).attr("stroke","#000").attr("stroke-width",w||1.8);
}
const f1=d=>d.toFixed(1).replace("-","\u2212");

// left column
let p;
p=panel(0,LX,[1626,1639.5],[-7.45,8.05],lc1XTicks,lc1YTicks); band(p,lc1Band); dots(p,lc1Fringe); dots(p,lc1Dots); p.frame();
p=panel(1,LX,[1468,1477.5],[-4.9,10],lc2XTicks,lc2YTicks); band(p,lc2Band); dots(p,lc2Fringe); dots(p,lc2Dots); p.frame();
p=panel(2,LX,[2419.5,2433],[-6.08,6.27],lc3XTicks,lc3YTicks); band(p,lc3Band); dots(p,lc3Fringe); dots(p,lc3Dots); p.frame();
p=panel(3,LX,[1983,1996.5],[-488,34],lc4XTicks,lc4YTicks); line(p,lc4Curve,3.5,d3.curveMonotoneX); p.frame();
p=panel(4,LX,[1764,1789],[-6.96,10.65],lc5XTicks,lc5YTicks); line(p,lc5Seg1,4.5,d3.curveMonotoneX); line(p,lc5Seg2,4.5,d3.curveMonotoneX); dots(p,lc5Dots); p.frame();
p=panel(5,LX,[1626,1639.5],[-2.99,4.28],lc6XTicks,lc6YTicks,null,f1); band(p,lc6Band); dots(p,lc6Fringe); dots(p,lc6Dots); p.frame();

// right column
p=panel(0,RX,[0,80],[0,1.0],ps1XTicks,ps1YTicks,null,f1); spectrum(p,ps1Floor,ps1Peaks,1.8); p.frame();
p=panel(1,RX,[0,15],[0,0.392],ps2XTicks,ps2YTicks,null,f1); spectrum(p,ps2Floor,ps2Peaks,1.8); p.frame();
p=panel(2,RX,[0,50],[0,0.908],ps3XTicks,ps3YTicks,null,f1); spectrum(p,ps3Floor,ps3Peaks,1.8); p.frame();
p=panel(3,RX,[0,40],[0,79.4],ps4XTicks,ps4YTicks); spectrum(p,ps4Floor,ps4Peaks,2); p.frame();
p=panel(4,RX,[0,10],[0,5.0],ps5XTicks,ps5YTicks);
p.g.append("path").datum(ps5Floor).attr("fill","#777").attr("d",d3.area().x(d=>p.x(d[0])).y0(p.y(0)).y1(d=>p.y(d[1])));
line(p,ps5Line,1.3); p.frame();
p=panel(5,RX,[0,10],[0,0.269],ps6XTicks,ps6YTicks,null,f1); spectrum(p,ps6Floor,ps6Peaks,2); p.frame();

// axis labels
svg.append("text").attr("transform","translate(70,613) rotate(-90)").attr("text-anchor","middle").style("font-size","27px").text("Normalised Flux [ppt]");
svg.append("text").attr("transform","translate(1069,612) rotate(-90)").attr("text-anchor","middle").style("font-size","27px").text("Normalised Amplitude [ppt]");
svg.append("text").attr("x",575.5).attr("y",1183).attr("text-anchor","middle").style("font-size","27px").text("Time [BJD]");
const ft=svg.append("text").attr("x",1543.5).attr("y",1185).attr("text-anchor","middle").style("font-size","27px");
ft.append("tspan").text("Frequency [d");
ft.append("tspan").attr("dy",-11).style("font-size","19px").text("\u22121");
ft.append("tspan").attr("dy",11).text("]");
</script></body></html>
